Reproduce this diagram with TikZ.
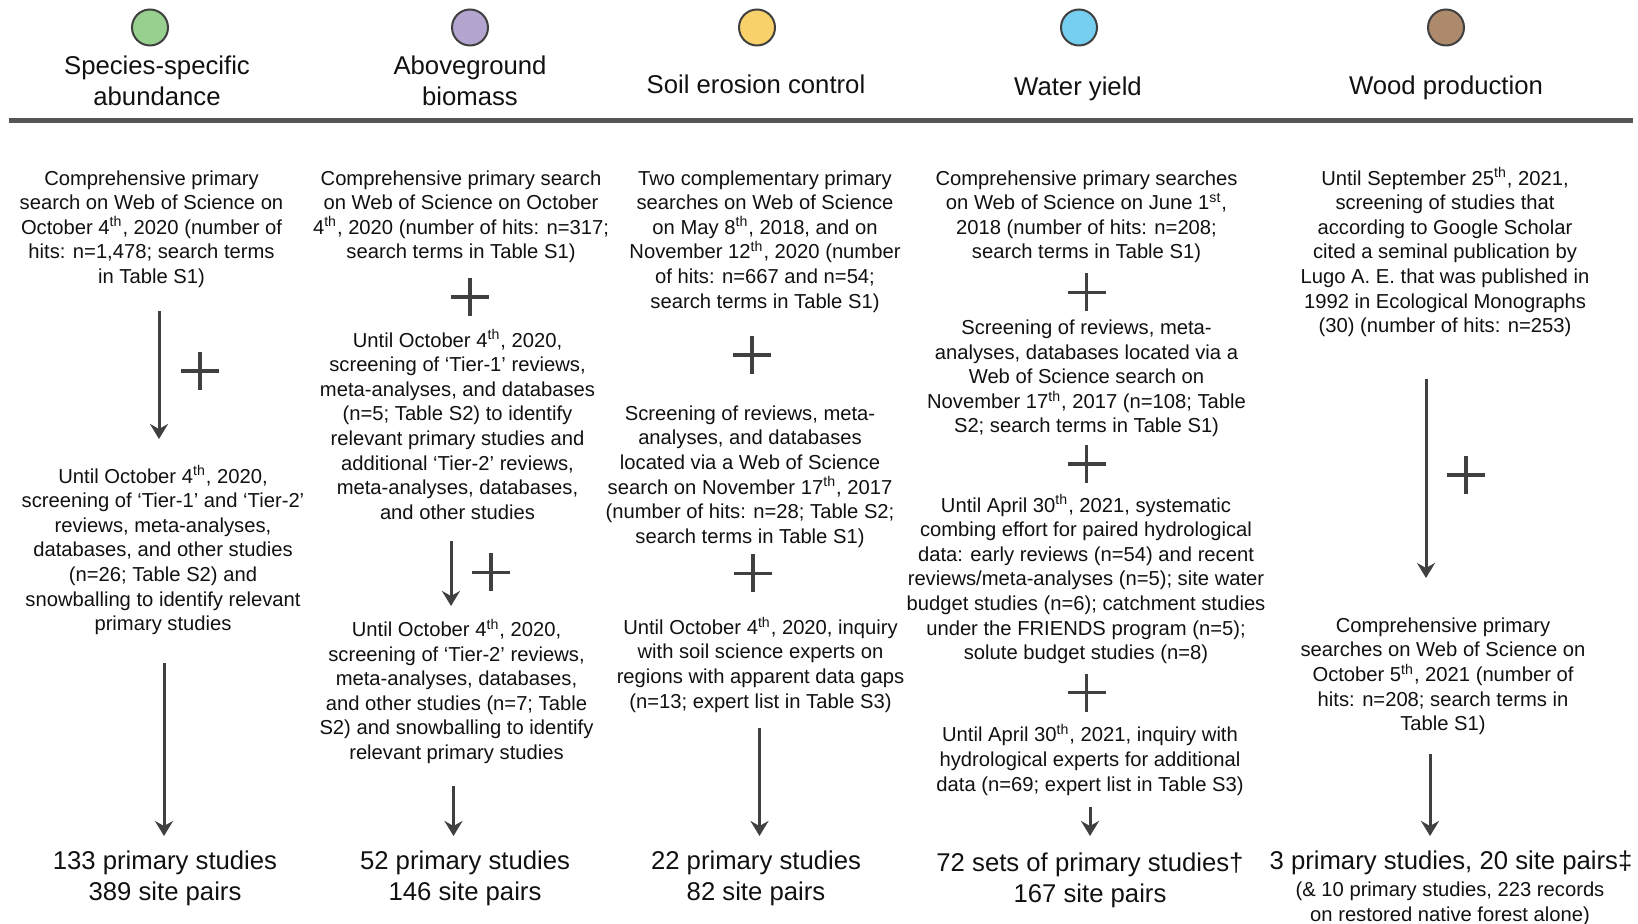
\documentclass[tikz,border=0pt]{standalone}
\usepackage{fontspec}
\setmainfont{Liberation Sans}
\usetikzlibrary{arrows.meta}
\definecolor{lgreen}{HTML}{98D18F}
\definecolor{lpurple}{HTML}{B3A5CF}
\definecolor{lyellow}{HTML}{F9D16A}
\definecolor{lblue}{HTML}{76CFF0}
\definecolor{lbrown}{HTML}{AE8A6C}
\definecolor{arrgray}{HTML}{404040}
\definecolor{rulegray}{HTML}{555555}
\definecolor{txt}{HTML}{111111}
\newcommand\bodyfnt{\fontsize{10.1}{12.3}\selectfont}
\newcommand\headfnt{\fontsize{12.85}{15.5}\selectfont}
\newcommand\sups[1]{\smash{\textsuperscript{#1}}}
\tikzset{
  body/.style={font=\bodyfnt, align=center, inner sep=0pt, anchor=north, text=txt},
  head/.style={font=\headfnt, align=center, inner sep=0pt, anchor=north, text=txt},
  dot/.style={circle, draw=arrgray, line width=1pt, minimum size=18pt, inner sep=0pt},
  conn/.style={draw=arrgray, line width=1.5pt, -{Stealth[length=7.5pt, width=9pt, inset=2.5pt]}},
  plusline/.style={draw=arrgray, line width=1.7pt},
  plussign/.pic={\draw[plusline] (-19,0) -- (19,0) (0,-19) -- (0,19);}
}
\begin{document}
\begin{tikzpicture}[x=0.5pt, y=-0.5pt]
\useasboundingbox[fill=white] (0,0) rectangle (1638,924);
% header dots
\node[dot, fill=lgreen]  (d1) at (150,27.5) {};
\node[dot, fill=lpurple] (d2) at (470,27.5) {};
\node[dot, fill=lyellow] (d3) at (757,27.5) {};
\node[dot, fill=lblue]   (d4) at (1079,27.5) {};
\node[dot, fill=lbrown]  (d5) at (1446,27.5) {};
% header titles
\node[head] (h1) at (157,55.3) {Species-specific\\abundance};
\node[head] (h2) at (470,55.3) {Aboveground\\biomass};
\node[head] (h3) at (756,74.1) {Soil erosion control};
\node[head] (h4) at (1078,76.2) {Water yield};
\node[head] (h5) at (1446,75.1) {Wood production};
% rule
\coordinate (rl) at (9,120.5);
\coordinate (rr) at (1633,120.5);
\draw[draw=rulegray, line width=2.75pt] (rl) -- (rr);
% column 1
\node[body] (c1a) at (151.5,170) {Comprehensive primary\\search on Web of Science on\\October 4\sups{th}, 2020 (number of\\hits: n=1,478; search terms\\in Table S1)};
\node[body] (c1b) at (163,468) {Until October 4\sups{th}, 2020,\\screening of ‘Tier-1’ and ‘Tier-2’\\reviews, meta-analyses,\\databases, and other studies\\(n=26; Table S2) and\\snowballing to identify relevant\\primary studies};
\node[head] (c1t) at (165,850.5) {133 primary studies\\389 site pairs};
% column 2
\node[body] (c2a) at (461,170) {Comprehensive primary search\\on Web of Science on October\\4\sups{th}, 2020 (number of hits: n=317;\\search terms in Table S1)};
\node[body] (c2b) at (457.5,332) {Until October 4\sups{th}, 2020,\\screening of ‘Tier-1’ reviews,\\meta-analyses, and databases\\(n=5; Table S2) to identify\\relevant primary studies and\\additional ‘Tier-2’ reviews,\\meta-analyses, databases,\\and other studies};
\node[body] (c2c) at (456.5,621.4) {Until October 4\sups{th}, 2020,\\screening of ‘Tier-2’ reviews,\\meta-analyses, databases,\\and other studies (n=7; Table\\S2) and snowballing to identify\\relevant primary studies};
\node[head] (c2t) at (465,850.5) {52 primary studies\\146 site pairs};
% column 3
\node[body] (c3a) at (765,170) {Two complementary primary\\searches on Web of Science\\on May 8\sups{th}, 2018, and on\\November 12\sups{th}, 2020 (number\\of hits: n=667 and n=54;\\search terms in Table S1)};
\node[body] (c3b) at (750,405.2) {Screening of reviews, meta-\\analyses, and databases\\located via a Web of Science\\search on November 17\sups{th}, 2017\\(number of hits: n=28; Table S2;\\search terms in Table S1)};
\node[body] (c3c) at (760.5,619.3) {Until October 4\sups{th}, 2020, inquiry\\with soil science experts on\\regions with apparent data gaps\\(n=13; expert list in Table S3)};
\node[head] (c3t) at (756,850.5) {22 primary studies\\82 site pairs};
% column 4
\node[body] (c4a) at (1086.5,170) {Comprehensive primary searches\\on Web of Science on June 1\sups{st},\\2018 (number of hits: n=208;\\search terms in Table S1)};
\node[body] (c4b) at (1086.5,319.5) {Screening of reviews, meta-\\analyses, databases located via a\\Web of Science search on\\November 17\sups{th}, 2017 (n=108; Table\\S2; search terms in Table S1)};
\node[body] (c4c) at (1086,497.1) {Until April 30\sups{th}, 2021, systematic\\combing effort for paired hydrological\\data: early reviews (n=54) and recent\\reviews/meta-analyses (n=5); site water\\budget studies (n=6); catchment studies\\under the FRIENDS program (n=5);\\solute budget studies (n=8)};
\node[body] (c4d) at (1090,726.9) {Until April 30\sups{th}, 2021, inquiry with\\hydrological experts for additional\\data (n=69; expert list in Table S3)};
\node[head] (c4t) at (1090,852.5) {72 sets of primary studies†\\167 site pairs};
% column 5
\node[body] (c5a) at (1445,170) {Until September 25\sups{th}, 2021,\\screening of studies that\\according to Google Scholar\\cited a seminal publication by\\Lugo A. E. that was published in\\1992 in Ecological Monographs\\(30) (number of hits: n=253)};
\node[body] (c5b) at (1443,617.2) {Comprehensive primary\\searches on Web of Science on\\October 5\sups{th}, 2021 (number of\\hits: n=208; search terms in\\Table S1)};
\node[head] (c5t) at (1451,850) {3 primary studies, 20 site pairs‡};
\node[body] (c5n) at (1450,881.5) {(\& 10 primary studies, 223 records\\on restored native forest alone)};
% arrows
\coordinate (s1) at (159,311);   \coordinate (e1) at (159,439);
\coordinate (s2) at (164,663);   \coordinate (e2) at (164,836);
\coordinate (s3) at (451,541);   \coordinate (e3) at (451,606);
\coordinate (s4) at (453.5,786); \coordinate (e4) at (453.5,836);
\coordinate (s5) at (759.5,728); \coordinate (e5) at (759.5,836);
\coordinate (s6) at (1090,806.5);\coordinate (e6) at (1090,836);
\coordinate (s7) at (1426,379);  \coordinate (e7) at (1426,578);
\coordinate (s8) at (1430,754);  \coordinate (e8) at (1430,836);
\foreach \i in {1,...,8} {\draw[conn] (s\i) -- (e\i);}
% plus signs
\pic at (200,371) {plussign};
\pic at (470,297) {plussign};
\pic at (491,572.5) {plussign};
\pic at (752,355) {plussign};
\pic at (753,573.5) {plussign};
\pic at (1086.5,292.5) {plussign};
\pic at (1086.5,464) {plussign};
\pic at (1086.5,692.5) {plussign};
\pic at (1466,475) {plussign};
\end{tikzpicture}
\end{document}
